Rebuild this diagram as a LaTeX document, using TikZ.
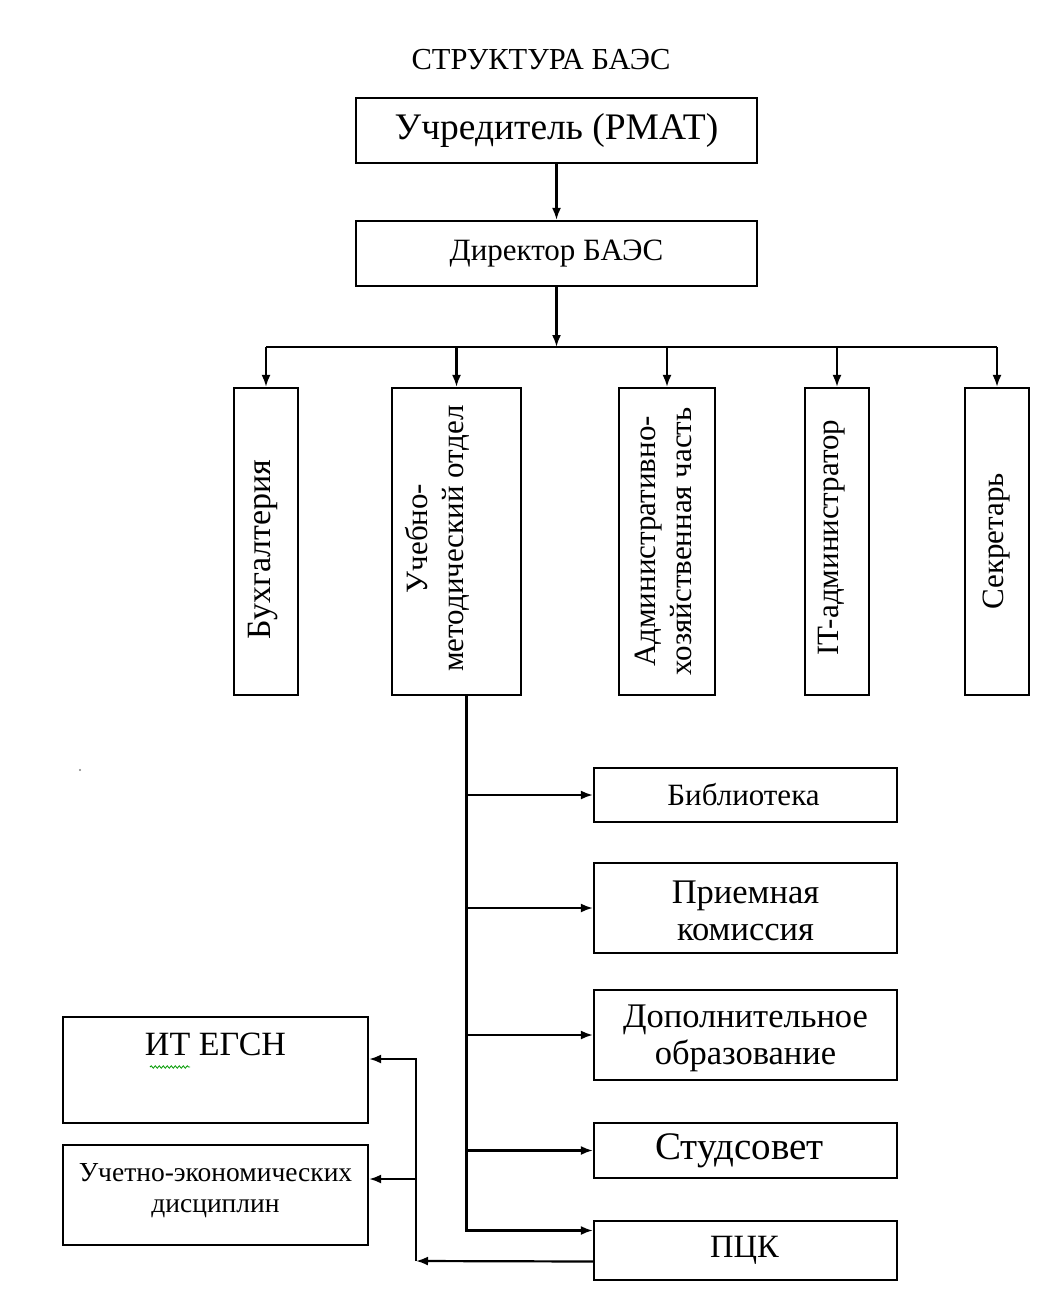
\documentclass[tikz,border=0pt]{standalone}
\usepackage{fontspec}
\setmainfont{Liberation Serif}
\usetikzlibrary{arrows.meta,positioning,decorations.pathmorphing}

\begin{document}
\begin{tikzpicture}[x=1pt,y=-1pt,
  box/.style={draw,line width=2.2pt,inner sep=0pt},
  arr/.style={line width=2.2pt,-{Latex[length=12pt,width=9pt]}},
  ln/.style={line width=2.2pt},
  vtext/.style={rotate=90,font=\fontsize{31}{36}\selectfont,align=center},
  rtext/.style={font=\fontsize{34.5}{37}\selectfont,align=center}]
\useasboundingbox (0,0) rectangle (1048,1308);

\node[font=\fontsize{30.5}{34}\selectfont] (title) at (541,60) {СТРУКТУРА БАЭС};

\node[box,minimum width=401,minimum height=65,font=\fontsize{37.5}{40}\selectfont] (top) at (556.5,130.5) {Учредитель (РМАТ)};
\node[box,minimum width=401,minimum height=65,font=\fontsize{31}{34}\selectfont] (dir) at (556.5,253.5) {Директор БАЭС};

% vertical boxes
\node[box,minimum width=64,minimum height=307] (buh) at (266,541.5) {};
\node[box,minimum width=129,minimum height=307] (umo) at (456.5,541.5) {};
\node[box,minimum width=96,minimum height=307] (ahch) at (667,541.5) {};
\node[box,minimum width=64,minimum height=307] (it) at (837,541.5) {};
\node[box,minimum width=64,minimum height=307] (sec) at (997,541.5) {};

\node[vtext,font=\fontsize{34}{38}\selectfont] (buht) at ([xshift=-3pt,yshift=-8pt]buh.center) {Бухгалтерия};
\node[vtext] (umot) at ([xshift=-19pt,yshift=3pt]umo.center) {Учебно-\\методический отдел};
\node[vtext] (ahcht) at ([xshift=-4pt]ahch.center) {Административно-\\хозяйственная часть};
\node[vtext] (itt) at ([xshift=-5pt,yshift=4pt]it.center) {IT-администратор};
\node[vtext] (sect) at (sec.center) {Секретарь};

% right column
\node[box,minimum width=303,minimum height=54] (lib) at (745.5,795) {};
\node[box,minimum width=303,minimum height=90] (pk) at (745.5,908) {};
\node[box,minimum width=303,minimum height=90] (dop) at (745.5,1035) {};
\node[box,minimum width=303,minimum height=55] (stud) at (745.5,1150.5) {};
\node[box,minimum width=303,minimum height=59] (pck) at (745.5,1250.5) {};

\node[rtext,font=\fontsize{31}{34}\selectfont] (libt) at ([xshift=-2pt]lib.center) {Библиотека};
\node[rtext] (pkt) at ([yshift=-3pt]pk.center) {Приемная\\комиссия};
\node[rtext] (dopt) at ([yshift=-3pt]dop.center) {Дополнительное\\образование};
\node[rtext,font=\fontsize{39}{42}\selectfont] (studt) at ([xshift=-6pt]stud.center) {Студсовет};
\node[rtext,font=\fontsize{32.5}{35}\selectfont] (pckt) at ([xshift=-1pt]pck.center) {ПЦК};

% left column
\node[box,minimum width=305,minimum height=106] (egsn) at (215.5,1070) {};
\node[box,minimum width=305,minimum height=100] (uchet) at (215.5,1195) {};

\node[font=\fontsize{34}{36}\selectfont,below=14pt of egsn.north] (egsnt) {ИТ ЕГСН};
\draw[green!60!black,line width=0.8pt,decorate,decoration={snake,amplitude=1.2pt,segment length=4pt}]
  (150,1067) -- (190,1067);
\node[font=\fontsize{27.5}{31}\selectfont,align=center] (uchett) at ([yshift=4pt]uchet.center) {Учетно-экономических\\дисциплин};

% connectors
\draw[arr] (top.south) -- (dir.north);
\coordinate (bus) at (556.5,347);
\draw[arr] (dir.south) -- (bus);
\draw[ln] (buh.north |- bus) -- (sec.north |- bus);
\foreach \n in {buh,umo,ahch,it,sec}
  \draw[arr] (\n.north |- bus) -- (\n.north);

\coordinate (trunk) at ([xshift=10pt]umo.south);
\draw[arr] (trunk) |- ([yshift=20pt]pck.west);
\foreach \n in {lib,pk,dop,stud}
  \draw[arr] (trunk |- \n.west) -- (\n.west);

\coordinate (split) at (416,1261);
\draw[arr] ([yshift=-11pt]pck.west) -- (split);
\draw[arr] (split) |- ([yshift=11pt]egsn.east);
\draw[arr] (split |- uchet.east) ++(0,-16) -- ([yshift=16pt]uchet.east);

\fill[gray] (80,770) circle (1.2);
\end{tikzpicture}
\end{document}
